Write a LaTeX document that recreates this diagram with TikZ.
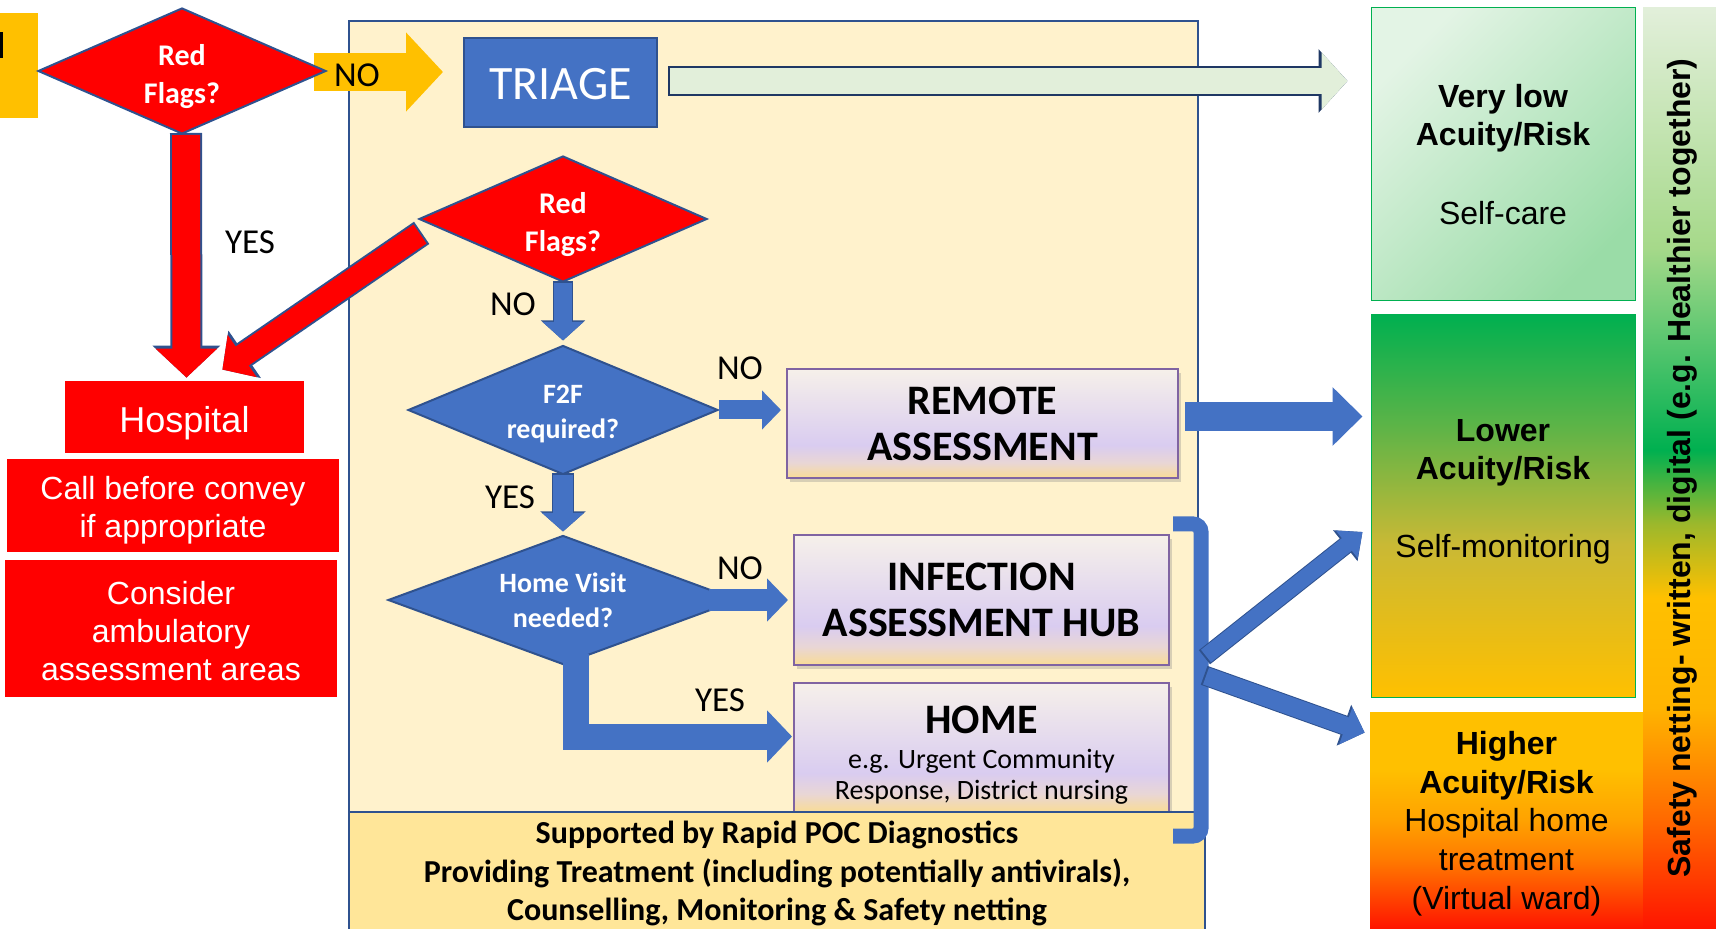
\documentclass[tikz,border=0pt]{standalone}
\usepackage{fontspec}
\setmainfont{Carlito}
\newfontfamily\arialfam{Liberation Sans}
\usetikzlibrary{calc,shapes.geometric,arrows.meta,shadows,backgrounds}

\definecolor{flagred}{RGB}{255,0,0}
\definecolor{amber}{RGB}{255,192,0}
\definecolor{nhsblue}{RGB}{68,114,196}
\definecolor{edgeblue}{RGB}{47,82,143}
\definecolor{panel}{RGB}{255,242,204}
\definecolor{bandfill}{RGB}{255,230,153}
\definecolor{mint}{RGB}{226,239,218}
\definecolor{navy}{RGB}{31,56,100}
\definecolor{plum}{RGB}{128,100,162}
\definecolor{okgreen}{RGB}{0,176,80}
\definecolor{asA}{RGB}{249,220,149}
\definecolor{asB}{RGB}{233,214,213}
\definecolor{asC}{RGB}{217,204,240}
\definecolor{asD}{RGB}{246,240,234}
\definecolor{vlA}{RGB}{227,244,229}
\definecolor{vlB}{RGB}{154,220,167}
\definecolor{loB}{RGB}{201,185,53}
\definecolor{loC}{RGB}{96,180,71}
\definecolor{hiB}{RGB}{255,162,0}
\definecolor{hiC}{RGB}{255,122,0}
\definecolor{hiD}{RGB}{255,72,0}
\definecolor{hiE}{RGB}{255,20,0}
\definecolor{sfA}{RGB}{226,239,218}
\definecolor{sfB}{RGB}{166,217,138}
\definecolor{sfC}{RGB}{156,184,44}
\definecolor{sfD}{RGB}{255,180,0}
\definecolor{sfE}{RGB}{255,106,0}

\pgfdeclareverticalshading{assess}{100bp}{color(0bp)=(asA); color(25bp)=(asA); color(32bp)=(asB); color(40bp)=(asC); color(75bp)=(asD); color(100bp)=(asD)}
\pgfdeclareverticalshading{lowrisk}{100bp}{color(0bp)=(amber); color(25bp)=(amber); color(45bp)=(loB); color(60bp)=(loC); color(75bp)=(okgreen); color(100bp)=(okgreen)}
\pgfdeclareverticalshading{highrisk}{100bp}{color(0bp)=(hiE); color(25bp)=(hiE); color(33bp)=(hiD); color(41bp)=(hiC); color(50bp)=(hiB); color(62bp)=(amber); color(100bp)=(amber)}
\pgfdeclareverticalshading{netting}{100bp}{color(0bp)=(hiE); color(25bp)=(hiE); color(31bp)=(sfE); color(37bp)=(sfD); color(43bp)=(amber); color(47bp)=(sfC); color(51bp)=(okgreen); color(62bp)=(sfB); color(75bp)=(sfA); color(100bp)=(sfA)}

% extra room above a first line, to sit a text block lower
\newcommand\lift[1]{\rule{0pt}{#1}}

\tikzset{
  flag/.style={diamond, aspect=2.3, fill=flagred, draw=edgeblue, line width=1pt, inner sep=0pt,
    minimum width=144pt, minimum height=63pt, text=white, align=center,
    font=\bfseries\fontsize{15}{19}\selectfont},
  ask/.style={diamond, aspect=2.3, fill=nhsblue, draw=edgeblue, line width=1pt, inner sep=0pt,
    minimum height=64.5pt, text=white, align=center,
    font=\bfseries\fontsize{14}{17.5}\selectfont},
  service/.style={rectangle, shade, shading=assess, draw=plum, line width=1pt,
    inner sep=0pt, align=center, font=\bfseries\fontsize{21}{23}\selectfont,
    drop shadow={opacity=.3, shadow xshift=1.5pt, shadow yshift=-2pt}},
  redbox/.style={rectangle, fill=flagred, inner sep=0pt, text=white, align=center,
    font=\arialfam\fontsize{16}{19}\selectfont},
  riskbox/.style={rectangle, inner sep=0pt, align=center,
    font=\arialfam\fontsize{16}{19}\selectfont},
  answer/.style={font=\fontsize{17.5}{21}\selectfont},
  fat/.style n args={4}{draw=#1, line width=#2, -{Triangle[width=#3,length=#4]}},
  rim/.style n args={4}{preaction={draw=#1, line width=#2,
    -{Triangle[width=#3,length=#4]}, shorten <=-1pt}},
  bracket/.style={draw=nhsblue, line width=7.5pt, rounded corners=4pt},
}

\begin{document}
\begin{tikzpicture}[x=0.5pt,y=-0.5pt]
\useasboundingbox (0,0) rectangle (1716,929);

% pathway panel
\begin{scope}[on background layer]
  \draw[fill=panel, draw=edgeblue, line width=1pt] (349,21) rectangle (1198,940);
\end{scope}

% entry tab (cut by the page edge)
\fill[amber] (0,13) rectangle (38,118);
\fill[black] (0,32) rectangle (3,58);

% decisions
\node[flag] (rf1) at (182,71) {\lift{16pt}Red\\Flags?};
\node[rectangle, fill=nhsblue, draw=edgeblue, line width=1pt, minimum width=96.5pt,
  minimum height=44.5pt, text=white, text height=17.5pt, text depth=0pt,
  font=\fontsize{24}{27}\selectfont] (triage) at (560.5,82.5) {TRIAGE};
\node[flag] (rf2) at (563,219) {\lift{16pt}Red\\Flags?};
\node[ask, minimum width=155pt] (f2f) at (563,410) {\lift{13.4pt}F2F\\required?};
\node[ask, minimum width=175pt] (visit) at (563,600) {Home Visit\\needed?};

% services
\node[service, minimum width=195.5pt, minimum height=54.5pt] (remote) at (982.5,423.5) {REMOTE\\ASSESSMENT};
\node[service, minimum width=187.5pt, minimum height=65pt] (hub) at (981.5,600) {INFECTION\\ASSESSMENT HUB};
\node[service, minimum width=187.5pt, minimum height=64.5pt] (home) at (981.5,747.5) {};
\node[align=center, inner sep=0pt, font=\fontsize{14}{15.5}\selectfont] (hometext) at (981.5,755)
  {{\bfseries\fontsize{21}{23}\selectfont HOME}\\[2pt]e.g. Urgent Community\\Response, District nursing};
\node[rectangle, fill=bandfill, draw=edgeblue, line width=1pt, minimum width=428pt,
  minimum height=61.5pt, align=center, font=\bfseries\fontsize{16}{19.25}\selectfont] (support) at (777,873.5)
  {Supported by Rapid POC Diagnostics\\Providing Treatment (including potentially antivirals),\\Counselling, Monitoring \& Safety netting};

% hospital side
\node[redbox, minimum width=119.5pt, minimum height=36pt, text height=16pt, text depth=0pt,
  font=\arialfam\fontsize{18}{21}\selectfont] (hosp) at (184.5,417) {Hospital};
\node[redbox, minimum width=166pt, minimum height=46.5pt] (convey) at (173,505.5) {\lift{16.2pt}Call before convey\\if appropriate};
\node[redbox, minimum width=166pt, minimum height=68.5pt] (ambul) at (171,628.5) {\lift{14.2pt}Consider\\ambulatory\\assessment areas};

% acuity levels
\node[riskbox, draw=okgreen, line width=.5pt, top color=vlA, bottom color=vlB, shading angle=45,
  minimum width=132pt, minimum height=146.5pt] (vlow) at (1503,154.5) {\textbf{Very low}\\\textbf{Acuity/Risk}\\[20.5pt]Self-care};
\node[riskbox, draw=okgreen, line width=.5pt, shade, shading=lowrisk,
  minimum width=132pt, minimum height=191pt] (lower) at (1503,506) {};
\node[riskbox] (lowertext) at (1503,492) {\textbf{Lower}\\\textbf{Acuity/Risk}\\[20pt]Self-monitoring};
\node[riskbox, shade, shading=highrisk, minimum width=136.5pt, minimum height=108.5pt,
  font=\arialfam\fontsize{16}{19.3}\selectfont] (higher) at (1506.5,820.5)
  {\lift{14.7pt}\textbf{Higher}\\\textbf{Acuity/Risk}\\Hospital home\\treatment\\(Virtual ward)};
\shade[shading=netting] (1643,8) rectangle (1716,929);
\node[rotate=90, font=\arialfam\bfseries\fontsize{16}{19}\selectfont] (netting) at (1682,468)
  {Safety netting- written, digital (e.g. Healthier together)};

% answers
\node[answer] (noA) at (357,75) {NO};
\node[answer] (yesA) at (250,242) {YES};
\node[answer] (noB) at (513,304) {NO};
\node[answer] (noC) at (740,368) {NO};
\node[answer] (yesB) at (510,497) {YES};
\node[answer] (noD) at (740,568) {NO};
\node[answer] (yesC) at (720,700) {YES};

% block arrows
\begin{scope}[on background layer]
  \draw[fat={amber}{19pt}{38.5pt}{18.5pt}] ($(rf1.east)+(-13,1)$) -- ($(triage.west)+(-20,-10.5)$);
\end{scope}
\draw[rim={navy}{15pt}{31pt}{14.5pt}, fat={mint}{13pt}{28pt}{13pt}]
  ($(triage.east)+(12,-1.5)$) -- ($(triage.east -| vlow.west)+(-23,-1.5)$);
\draw[rim={edgeblue}{16pt}{33pt}{16pt}, fat={flagred}{14pt}{30pt}{14.5pt}]
  ($(rf1.south)+(4,0)$) -- ($(hosp.north)+(2,-3)$);
\draw[rim={edgeblue}{13.5pt}{28pt}{13.5pt}, fat={flagred}{11.5pt}{25pt}{12pt}]
  ($(rf2.west)+(2,15)$) -- ($(hosp.north east)+(-82,-11)$);
\draw[rim={edgeblue}{10pt}{21.5pt}{10pt}, fat={nhsblue}{9pt}{20pt}{9.3pt}]
  (rf2.south) -- ($(f2f.north)+(0,-4)$);
\draw[fat={nhsblue}{9.5pt}{19pt}{9.5pt}] (f2f.east) -- ($(f2f.east -| remote.west)+(-5,0)$);
\draw[rim={edgeblue}{11pt}{22pt}{10pt}, fat={nhsblue}{10pt}{20.5pt}{9.3pt}]
  (f2f.south) -- ($(visit.north)+(0,-3)$);
\draw[fat={nhsblue}{11pt}{21pt}{10.5pt}] ($(visit.east)+(-30,0)$) -- ($(hub.west)+(-5,0)$);
\draw[fat={nhsblue}{13pt}{25.5pt}{12.5pt}] ($(visit.south)+(13,-12)$) |- ($(home.west)+(-1,-11)$);
\draw[fat={nhsblue}{14.5pt}{28.5pt}{15pt}]
  ($(remote.east)+(6,-7)$) -- ($(remote.east -| lower.west)+(-8,-7)$);

% bracket round hub and home
\draw[bracket] ($(hub.north east)+(3,-10)$) -| ($(home.south east)+(31,23)$) -- ($(home.south east)+(3,23)$);
\coordinate (fork) at ($(hub.south east)+(36,0)$);
\draw[rim={edgeblue}{9pt}{19pt}{11pt}, fat={nhsblue}{8pt}{17pt}{10pt}]
  ($(fork)+(0,-10)$) -- ($(lower.west)+(-8,26)$);
\draw[rim={edgeblue}{10pt}{21pt}{11pt}, fat={nhsblue}{9pt}{19pt}{10pt}]
  ($(fork)+(0,10)$) -- ($(higher.north west)+(-5,21)$);

\end{tikzpicture}
\end{document}
